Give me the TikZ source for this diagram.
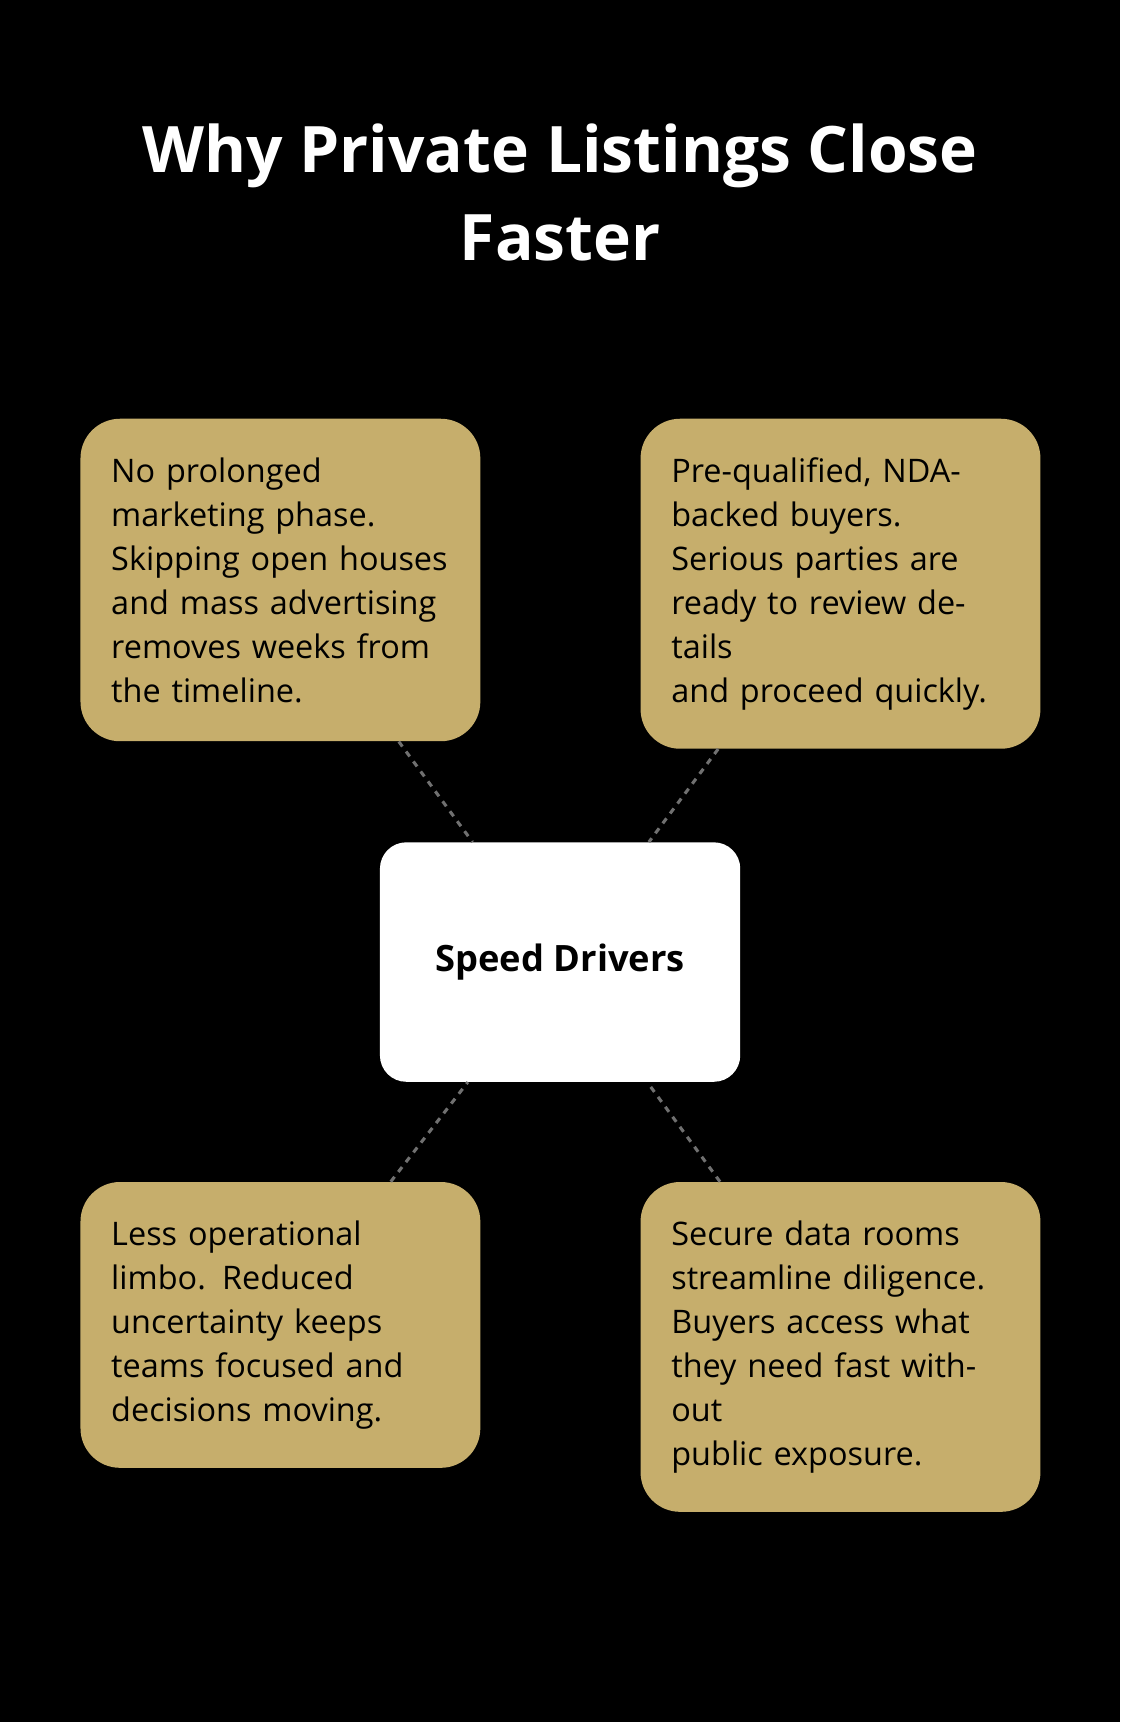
\documentclass[tikz,border=0pt]{standalone}
\usepackage{fontspec}
\setmainfont{Open Sans}
\usetikzlibrary{positioning}
\definecolor{gold}{HTML}{C6AE6C}
\definecolor{linkgray}{HTML}{707070}
\tikzset{
  card/.style={draw=none,fill=gold,rounded corners=0.9cm,anchor=north west,
    text width=7.7cm,inner xsep=0.7cm,inner ysep=0.88cm,align=left,
    font=\fontsize{21}{28.5}\selectfont},
  hub/.style={fill=white,rounded corners=0.6cm,minimum width=8.2cm,minimum height=5.45cm,
    font=\fontsize{23.5}{28}\selectfont\bfseries},
  link/.style={linkgray,line width=2pt,dash pattern=on 4pt off 4pt}
}
\begin{document}
\begin{tikzpicture}[x=0.025cm,y=-0.025cm]
\fill[black] (0,0) rectangle (1020,1568);
\useasboundingbox (0,0) rectangle (1020,1568);
%title
\node[white,align=center,font=\fontsize{41.5}{57}\selectfont\bfseries] (title) at (510,175)
  {Why Private Listings Close\\Faster};
%hub
\node[hub] (drivers) at (510,876) {Speed Drivers};
%cards
\node[card] (marketing) at (73,381) {No prolonged\\marketing phase.\\Skipping open houses\\and mass advertising\\removes weeks from\\the timeline.};
\node[card] (buyers) at (583,381) {Pre-qualified, NDA-\\backed buyers.\\Serious parties are\\ready to review details\\and proceed quickly.};
\node[card] (limbo) at (73,1076) {Less operational\\limbo. Reduced\\uncertainty keeps\\teams focused and\\decisions moving.};
\node[card] (datarooms) at (583,1076) {Secure data rooms\\streamline diligence.\\Buyers access what\\they need fast without\\public exposure.};
%links
\foreach \n in {marketing,buyers,limbo,datarooms}
  \draw[link] (\n) -- (drivers);
\end{tikzpicture}
\end{document}
